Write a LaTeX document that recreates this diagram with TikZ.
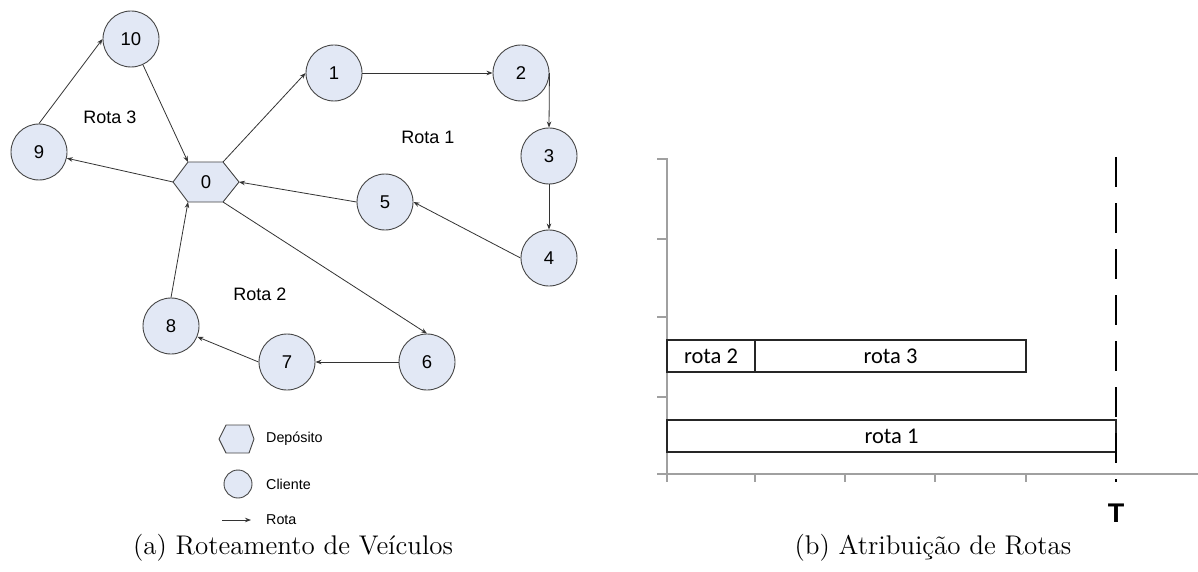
\documentclass[tikz,border=0pt]{standalone}
\usepackage{fontspec}
\setmainfont{lmroman12-regular}[Extension=.otf]
\newfontfamily\arialish{Liberation Sans}
\newfontfamily\calib{Carlito}
\usetikzlibrary{arrows.meta}
\definecolor{nodefill}{RGB}{226,232,245}
\definecolor{nodeedge}{RGB}{70,70,70}
\definecolor{axisgray}{RGB}{160,160,160}

\begin{document}
\begin{tikzpicture}[x=1pt,y=-1pt,
  client/.style={circle,draw=nodeedge,fill=nodefill,line width=0.9pt,
    minimum size=56pt,inner sep=0pt,font=\arialish\fontsize{18.5}{18}\selectfont},
  smallclient/.style={client,minimum size=28pt},
  depot/.style={draw=nodeedge,fill=nodefill,line width=0.9pt},
  numlabel/.style={inner sep=0pt,font=\arialish\fontsize{18.5}{18}\selectfont},
  routelabel/.style={inner sep=0pt,font=\arialish\fontsize{18}{18}\selectfont},
  legendtext/.style={inner sep=0pt,anchor=west,font=\arialish\fontsize{14.3}{15}\selectfont},
  route/.style={draw=black!80,line width=0.8pt,-{Stealth[length=6pt,width=4.5pt]}},
  bar/.style={draw=black!85,line width=1.3pt,inner sep=0pt,minimum height=32pt,
    font=\calib\fontsize{22.5}{23}\selectfont},
  axis/.style={draw=axisgray,line width=1.6pt},
  limit/.style={draw=black,line width=1.8pt,dash pattern=on 30pt off 16pt},
  caption/.style={inner sep=0pt,font=\fontsize{27}{30}\selectfont}]

\useasboundingbox[fill=white] (0,0) rectangle (1198,572);

% ---------------- (a) vehicle routing graph ----------------
% depot (hexagon) corners
\coordinate (hl)  at (173,182);
\coordinate (htl) at (188,162);
\coordinate (htr) at (223,162);
\coordinate (hr)  at (239,182);
\coordinate (hbr) at (223,202);
\coordinate (hbl) at (188,202);
\draw[depot] (hl) -- (htl) -- (htr) -- (hr) -- (hbr) -- (hbl) -- cycle;
\node[numlabel] (n0) at (206,182) {0};

% clients
\node[client] (n1)  at (334,73)  {1};
\node[client] (n2)  at (521,73)  {2};
\node[client] (n3)  at (549,156) {3};
\node[client] (n4)  at (549,258) {4};
\node[client] (n5)  at (385,202) {5};
\node[client] (n6)  at (427,362) {6};
\node[client] (n7)  at (287,362) {7};
\node[client] (n8)  at (171,326) {8};
\node[client] (n9)  at (39,152)  {9};
\node[client] (n10) at (131,39)  {10};

% route names
\node[routelabel] (r1lbl) at (428,137) {Rota 1};
\node[routelabel] (r2lbl) at (260,294) {Rota 2};
\node[routelabel] (r3lbl) at (110,117) {Rota 3};

% route 1
\draw[route] (htr) -- (n1.west);
\draw[route] (n1.east) -- (n2.west);
\draw[route] (n2.east) -- (n3.north);
\draw[route] (n3.south) -- (n4.north);
\draw[route] (n4.west) -- (n5.east);
\draw[route] (n5.west) -- (hr);
% route 2
\draw[route] (hbr) -- (n6.north);
\draw[route] (n6.west) -- (n7.east);
\draw[route] (n7.west) -- (n8);
\draw[route] (n8.north) -- (hbl);
% route 3
\draw[route] (hl) -- (n9);
\draw[route] (n9.north) -- (n10.west);
\draw[route] (n10) -- (htl);

% legend
\draw[depot] (219,439) -- (226,425) -- (249,425) -- (254,439) -- (249,453) -- (226,453) -- cycle;
\node[legendtext] (ldep) at (266,439) {Depósito};
\node[smallclient] (lcli) at (238,484) {};
\node[legendtext] (lcl) at (266,484) {Cliente};
\coordinate (la) at (222,520);
\coordinate (lb) at (251,520);
\draw[route] (la) -- (lb);
\node[legendtext] (lrot) at (266,520) {Rota};

% ---------------- (b) route assignment chart ----------------
\draw[axis] (657,159) -- (667,159) -- (667,474);
\foreach \yy in {239,317,397} \draw[axis] (657,\yy) -- (667,\yy);
\draw[axis] (657,474) -- (1198,474);
\foreach \xx in {667,755,845,935,1026} \draw[axis] (\xx,474) -- (\xx,482);

\node[bar,minimum width=449pt] (rota1) at (891.5,436) {rota 1};
\node[bar,minimum width=88pt]  (rota2) at (711,356)   {rota 2};
\node[bar,minimum width=271pt] (rota3) at (890.5,356) {rota 3};

\coordinate (ttop) at (1116,157);
\coordinate (tbot) at (1116,482);
\draw[limit] (ttop) -- (tbot);
\node[inner sep=0pt,font=\arialish\bfseries\fontsize{27}{28}\selectfont] (tlbl) at (1116,513) {T};

% captions
\node[caption] (capa) at (293,548) {(a) Roteamento de Veículos};
\node[caption] (capb) at (933,548) {(b) Atribuição de Rotas};
\end{tikzpicture}
\end{document}
